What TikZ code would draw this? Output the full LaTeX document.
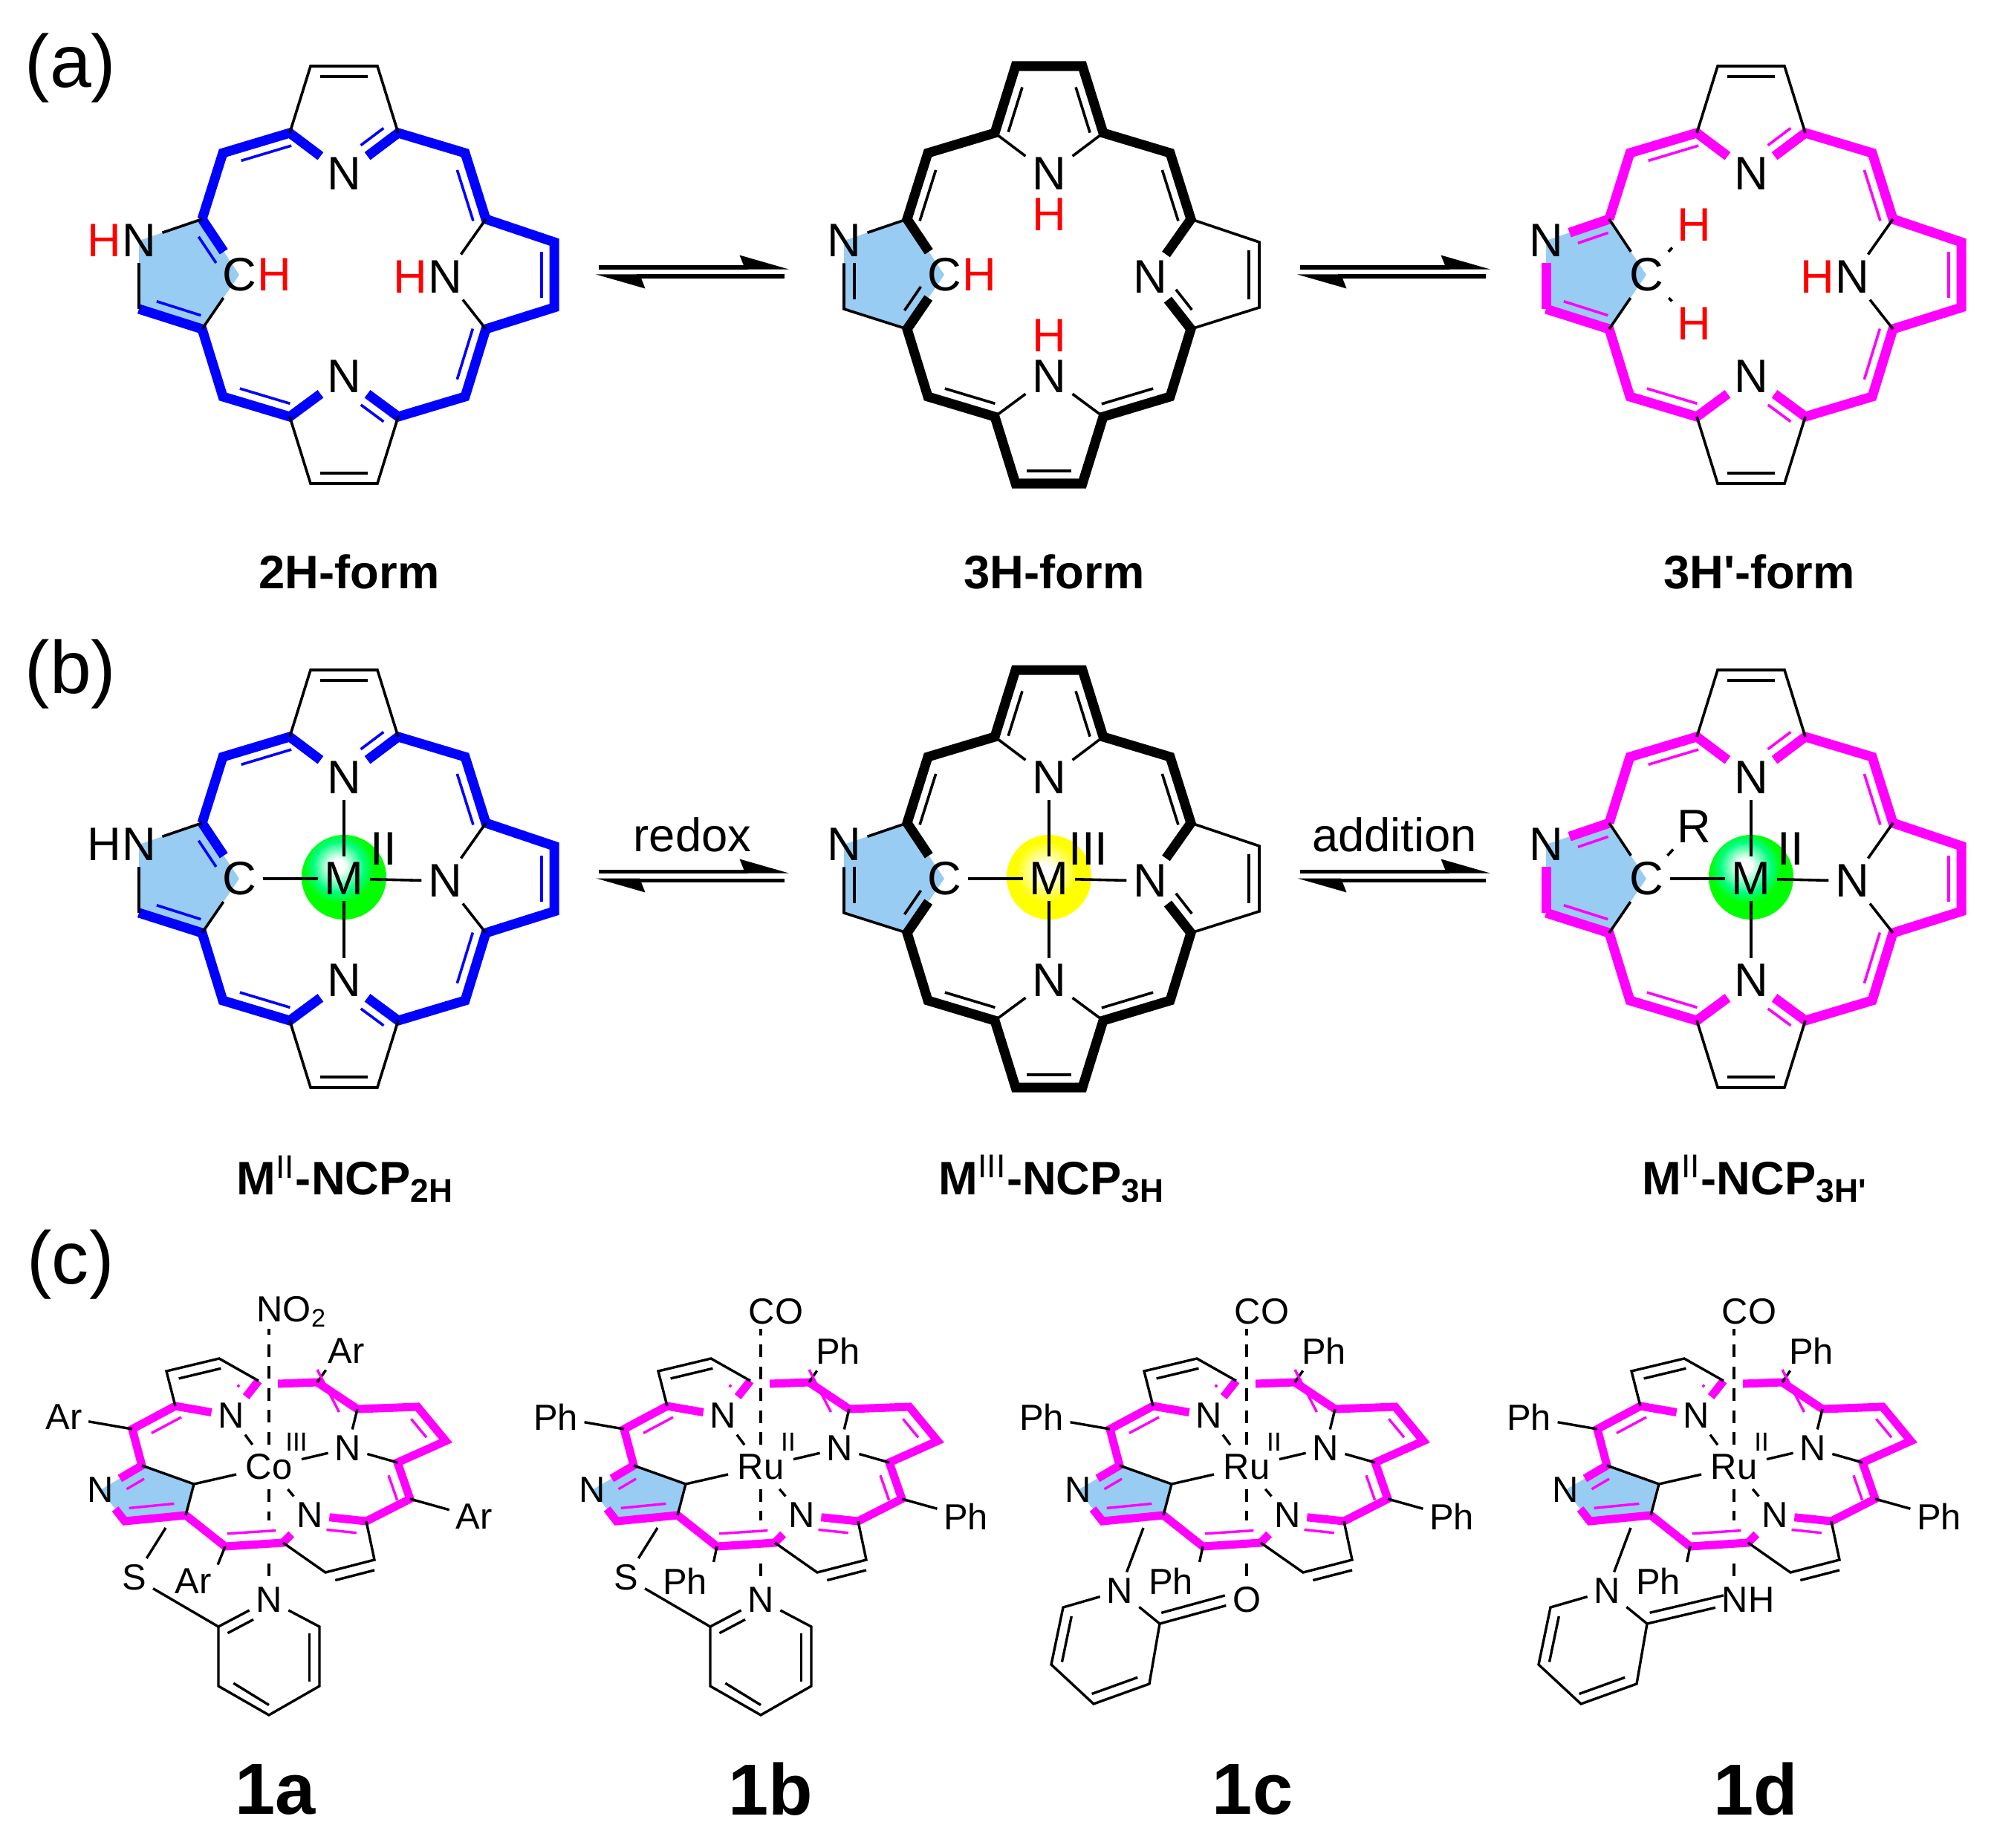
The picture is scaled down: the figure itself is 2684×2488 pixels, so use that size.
\documentclass[tikz,border=0pt]{standalone}
\usepackage{fontspec}
\setmainfont{Liberation Sans}[Ligatures=TeXOff]
\usetikzlibrary{calc,positioning,arrows.meta}
\definecolor{pentblue}{HTML}{99CCF2}
\definecolor{formblue}{HTML}{0000FF}
\definecolor{formpink}{HTML}{FF00FF}
\pgfdeclareradialshading{greenball}{\pgfpoint{-4bp}{7bp}}{rgb(0bp)=(1,1,1);rgb(4bp)=(1,1,1);rgb(15bp)=(0,1,.5);rgb(21bp)=(0,1,0);rgb(100bp)=(0,1,0)}
\pgfdeclareradialshading{yellowball}{\pgfpoint{-2bp}{4bp}}{rgb(0bp)=(1,1,1);rgb(4bp)=(1,1,1);rgb(18bp)=(1,1,0);rgb(100bp)=(1,1,0)}
\tikzset{
    thk/.style={line width=.13cm},
    thn/.style={line width=.036cm,black},
    inn/.style={line width=.036cm},
    atom/.style={font=\fontsize{18}{20}\selectfont,text=black,inner sep=.08cm},
    hatom/.style={atom,inner sep=0pt,text=#1},
    hatom/.default=red,
    fthk/.style={line width=.11cm},
    fthn/.style={line width=.034cm,black},
    finn/.style={line width=.034cm},
    axial/.style={fthn,dash pattern=on .17cm off .125cm},
    satom/.style={font=\fontsize{13.9}{16}\selectfont,text=black,inner sep=.08cm},
    metal/.style={satom,inner sep=.12cm},
    oxlab/.style={font=\fontsize{10}{12}\selectfont,text=black,inner sep=0pt},
    panel/.style={font=\fontsize{28.5}{32}\selectfont,inner sep=0pt},
    formlab/.style={font=\bfseries\fontsize{18}{20}\selectfont,inner sep=0pt},
    numlab/.style={font=\bfseries\fontsize{27.7}{30}\selectfont,inner sep=0pt},
    eqline/.style={line width=.05cm,black,-{Stealth[harpoon,length=.57cm,width=.32cm,inset=.06cm]}},
}
\newcommand{\inbond}[5][.17cm]{\draw ($(#2)!#4!(#3)!#1!90:(#3)$) -- ($(#2)!#5!(#3)!#1!90:(#3)$);}
\newcommand{\ncpbase}{%
    \coordinate (bt1) at (-45,-281); \coordinate (bt2) at (45,-281);
    \coordinate (at1) at (-73,-191); \coordinate (at2) at (73,-191);
    \coordinate (mt1) at (-163,-164); \coordinate (mt2) at (163,-164);
    \coordinate (al1) at (-191,-75); \coordinate (pn) at (-276,-46);
    \coordinate (pb) at (-276,46); \coordinate (al2) at (-191,73);
    \coordinate (pc) at (-141,0);
    \coordinate (ar1) at (191,-75); \coordinate (br1) at (283,-44);
    \coordinate (br2) at (283,44); \coordinate (ar2) at (191,73);
    \coordinate (mb1) at (-163,164); \coordinate (mb2) at (163,164);
    \coordinate (ab1) at (-73,191); \coordinate (ab2) at (73,191);
    \coordinate (bb1) at (-45,281); \coordinate (bb2) at (45,281);
    \fill[pentblue] (pn) -- (al1) -- (pc) -- (al2) -- (pb) -- cycle;
    \node[atom] (nl) at (pn) {N};
    \node[atom] (cc) at (pc) {C};
    \node[atom] (nt) at (0,-136) {N};
    \node[atom] (nb) at (0,137) {N};
    \node[atom] (nr) at (136,3) {N};
}
\newcommand{\ncpmetal}[2]{%
    \shade[shading=#1] (0,-2) circle (57);
    \node[atom] (mm) at (0,0) {M};
    \node[atom] (mo) at (53,-40) {#2};
    \draw[thn] (nt) -- (mm);
    \draw[thn] (nb) -- (mm);
    \draw[thn] (cc) -- (mm);
    \draw[thn] (nr) -- (mm);
}
\newcommand{\ncpcommon}{%
    \draw[thk] (al1) -- (mt1) -- (at1) -- (nt);
    \draw[thk] (nt) -- (at2) -- (mt2) -- (ar1) -- (br1) -- (br2) -- (ar2) -- (mb2) -- (ab2) -- (nb);
    \draw[thk] (nb) -- (ab1) -- (mb1) -- (al2) -- (pb);
    \draw[thn] (at1) -- (bt1) -- (bt2) -- (at2);
    \draw[thn] (ab1) -- (bb1) -- (bb2) -- (ab2);
    \draw[thn] (ar1) -- (nr);
    \draw[thn] (ar2) -- (nr);
    \draw[thn] (al2) -- (cc);
    \begin{scope}[inn]
    \inbond{at1}{mt1}{.03}{.78}
    \inbond{nt}{at2}{.45}{.87}
    \inbond{ar1}{mt2}{.03}{.8}
    \inbond{br2}{br1}{.15}{.85}
    \inbond{mb2}{ar2}{.2}{.95}
    \inbond{ab2}{nb}{.13}{.55}
    \inbond{mb1}{ab1}{.2}{.95}
    \inbond{pb}{al2}{.22}{.92}
    \end{scope}
    \begin{scope}[thn]
    \inbond[.14cm]{bt2}{bt1}{.14}{.86}
    \inbond[.14cm]{bb1}{bb2}{.14}{.86}
    \end{scope}
}
\newcommand{\skeltwo}{%
    \ncpcommon
    \draw[thk] (al1) -- (cc);
    \draw[thn] (al1) -- (nl);
    \draw[thn] (nl) -- (pb);
    \begin{scope}[inn]\inbond{cc}{al1}{.34}{.81}\end{scope}
}
\newcommand{\skelpink}{%
    \ncpcommon
    \draw[thk] (al1) -- (nl);
    \draw[thk] (pb) -- (nl);
    \draw[thn] (al1) -- (cc);
    \begin{scope}[inn]\inbond{al1}{nl}{.08}{.56}\end{scope}
}
\newcommand{\skelthree}{%
    \draw[thk] (cc) -- (al1) -- (mt1) -- (at1) -- (bt1) -- (bt2) -- (at2) -- (mt2) -- (ar1) -- (nr);
    \draw[thk] (nr) -- (ar2) -- (mb2) -- (ab2) -- (bb2) -- (bb1) -- (ab1) -- (mb1) -- (al2) -- (cc);
    \draw[thn] (al1) -- (nl);
    \draw[thn] (nl) -- (pb) -- (al2);
    \draw[thn] (at1) -- (nt);
    \draw[thn] (at2) -- (nt);
    \draw[thn] (ab1) -- (nb);
    \draw[thn] (ab2) -- (nb);
    \draw[thn] (ar1) -- (br1) -- (br2) -- (ar2);
    \begin{scope}[inn]
    \inbond{mt1}{al1}{.2}{.97}
    \inbond{ar1}{mt2}{.03}{.8}
    \inbond{bt1}{at1}{.26}{.93}
    \inbond{at2}{bt2}{.06}{.74}
    \inbond{nr}{ar2}{.39}{.78}
    \inbond[.14cm]{br2}{br1}{.13}{.87}
    \inbond{ab2}{mb2}{.03}{.8}
    \inbond{bb1}{bb2}{.17}{.83}
    \inbond{mb1}{ab1}{.2}{.95}
    \inbond{al2}{cc}{.21}{.65}
    \inbond[.14cm]{pn}{pb}{.33}{.86}
    \end{scope}
}
\newcommand{\ncpflat}[4]{%
    \coordinate (a1) at (-126,-82); \coordinate (a2) at (-14,-116);
    \coordinate (b1) at (-138,-129); \coordinate (b2) at (-67,-146);
    \coordinate (m1) at (-184,-51); \coordinate (a3) at (-171,-2);
    \coordinate (pc) at (-101,23); \coordinate (a4) at (-112,65);
    \coordinate (b3) at (-194,73); \coordinate (m2) at (-59,107);
    \coordinate (a5) at (19,102); \coordinate (b4) at (76,142);
    \coordinate (b5) at (142,125); \coordinate (a6) at (131,73);
    \coordinate (m3) at (190,43); \coordinate (a7) at (173,-6);
    \coordinate (b6) at (238,-35); \coordinate (b7) at (200,-81);
    \coordinate (a8) at (119,-78); \coordinate (m4) at (65,-114);
    \coordinate (g1) at (12,-112); \coordinate (axt) at (0,-186);
    \coordinate (axa) at (0,72); \coordinate (axb) at (0,130);
    \coordinate (sb) at (-139,82);
    \fill[pentblue] (-227,31) -- (a3) -- (pc) -- (a4) -- (b3) -- cycle;
    \node[metal] (mm) at (0,0) {#1};
    \node[oxlab] (mo) at (37,-34) {#2};
    \node[satom] (nw) at (-51,-69) {N};
    \node[satom] (nl) at (-227,31) {N};
    \node[satom] (ns) at (55,65) {N};
    \node[satom] (ne) at (106,-25) {N};
    \node[satom,inner sep=0pt,anchor=west] (lig) at (-17,-209) {#4};
    \node[satom] (r1) at (-276,-67) {#3};
    \node[satom] (r2) at (104,-156) {#3};
    \node[satom] (r3) at (276,67) {#3};
    \node[satom] (r4) at (-102,154) {#3};
    \draw[axial] (mm) -- (axt);
    \draw[axial] (mm) -- (axa);
    \draw[fthk] (nw) -- (a2);
    \draw[fthk] (nw) -- (a1) -- (m1) -- (a3) -- (nl);
    \draw[fthk] (g1) -- (m4) -- (a8) -- (b7) -- (b6) -- (a7) -- (m3) -- (a6) -- (ns);
    \draw[fthk] (ns) -- (a5) -- (m2) -- (a4) -- (b3) -- (nl);
    \draw[fthn] (a1) -- (b1) -- (b2) -- (a2);
    \draw[fthn] (a5) -- (b4) -- (b5) -- (a6);
    \draw[fthn] (nw) -- (mm);
    \draw[fthn] (ne) -- (mm);
    \draw[fthn] (ns) -- (mm);
    \draw[fthn] (ne) -- (a8);
    \draw[fthn] (ne) -- (a7);
    \draw[fthn] (a3) -- (pc) -- (a4);
    \draw[fthn] (pc) -- (mm);
    \draw[fthn] (m1) -- (r1);
    \draw[fthn] (m4) -- (r2.223);
    \draw[fthn] (m3) -- (r3);
    \draw[fthn] (m2) -- (r4.34);
    \begin{scope}[finn]
    \inbond{a1}{m1}{0}{.69}
    \inbond{a8}{m4}{.28}{1}
    \inbond{b6}{b7}{.34}{.88}
    \inbond{m3}{a7}{.08}{.76}
    \inbond{a6}{ns}{.15}{.68}
    \inbond{m2}{a5}{.05}{.89}
    \inbond{b3}{a4}{.09}{.83}
    \inbond{a3}{nl}{.1}{.52}
    \inbond{nw}{a2}{.6}{.66}
    \end{scope}
    \begin{scope}[fthn]
    \inbond[.135cm]{b2}{b1}{.01}{.81}
    \inbond[.135cm]{b5}{b4}{.05}{.85}
    \end{scope}
}
\newcommand{\sligand}{%
    \node[satom] (ss) at (-181,149) {S};
    \node[satom] (p1) at (0,179) {N};
    \coordinate (p2) at (-68,215); \coordinate (p3) at (-68,295);
    \coordinate (p4) at (0,334); \coordinate (p5) at (68,295);
    \coordinate (p6) at (68,215);
    \draw[axial] (axb) -- (p1);
    \draw[fthn] (sb) -- (ss);
    \draw[fthn] (ss) -- (p2);
    \draw[fthn] (p1) -- (p2) -- (p3) -- (p4) -- (p5) -- (p6) -- (p1);
    \begin{scope}[fthn]
    \inbond[.135cm]{p1}{p2}{.4}{.91}
    \inbond[.135cm]{p5}{p6}{.08}{.89}
    \inbond[.135cm]{p3}{p4}{.2}{1}
    \end{scope}
}
\newcommand{\oligand}[2]{%
    \node[satom] (p1) at (-171,167) {N};
    \node[satom,#1] (xx) at (0,179) {#2};
    \coordinate (axc) at (0,152);
    \coordinate (p2) at (-117,211); \coordinate (p3) at (-131,292);
    \coordinate (p4) at (-206,319); \coordinate (p5) at (-263,266);
    \coordinate (p6) at (-247,189);
    \draw[axial] (axb) -- (axc);
    \draw[fthn] (sb) -- (p1);
    \draw[fthn] (p1) -- (p2) -- (p3) -- (p4) -- (p5) -- (p6) -- (p1);
    \draw[fthn] (p2) -- (xx);
    \begin{scope}[fthn]
    \inbond[.135cm]{p2}{xx}{.05}{.78}
    \inbond[.135cm]{p6}{p5}{.12}{.92}
    \inbond[.135cm]{p4}{p3}{.03}{.85}
    \end{scope}
}
\newcommand{\eqpair}[3]{%
    \begin{scope}[shift={(#1,#2)},name prefix=#3-]
    \coordinate (ul) at (4,-10); \coordinate (ur) at (260,-10);
    \coordinate (lr) at (254,2); \coordinate (ll) at (0,2);
    \draw[eqline] (ul) -- (ur);
    \draw[eqline] (lr) -- (ll);
    \end{scope}
}
\begin{document}
\begin{tikzpicture}[x=.01cm,y=-.01cm]
    \useasboundingbox (0,0) rectangle (2684,2488);
    \node[panel] (pa) at (95,92) {(a)};
    \node[panel] (pb) at (95,908) {(b)};
    \node[panel] (pc) at (95,1703) {(c)};
    \begin{scope}[shift={(463,370)},color=formblue,name prefix=a1-]
        \ncpbase
        \node[hatom,left=-.08cm of nl] (hl) {H};
        \node[hatom,right=-.08cm of cc] (hc) {H};
        \node[hatom,left=-.08cm of nr] (hr) {H};
        \skeltwo
    \end{scope}
    \begin{scope}[shift={(1412,370)},color=black,name prefix=a2-]
        \ncpbase
        \node[hatom,right=-.08cm of cc] (hc) {H};
        \node[hatom,below=.02cm of nt] (ht) {H};
        \node[hatom,above=.02cm of nb] (hb) {H};
        \skelthree
    \end{scope}
    \begin{scope}[shift={(2357,370)},color=formpink,name prefix=a3-]
        \ncpbase
        \node[atom,text=red] (hu) at (-77,-67) {H};
        \node[atom,text=red] (hd) at (-77,66) {H};
        \node[hatom,left=-.08cm of nr] (hr) {H};
        \draw[thn] (cc) -- (hu);
        \draw[thn] (cc) -- (hd);
        \skelpink
    \end{scope}
    \eqpair{802}{370}{q1}
    \eqpair{1746}{370}{q2}
    \node[formlab] (la1) at (470,770) {2H-form};
    \node[formlab] (la2) at (1419,770) {3H-form};
    \node[formlab] (la3) at (2368,770) {3H'-form};
    \begin{scope}[shift={(463,1183)},color=formblue,name prefix=b1-]
        \ncpbase
        \node[hatom=black,left=-.08cm of nl] (hl) {H};
        \ncpmetal{greenball}{II}
        \skeltwo
    \end{scope}
    \begin{scope}[shift={(1412,1183)},color=black,name prefix=b2-]
        \ncpbase
        \ncpmetal{yellowball}{III}
        \skelthree
    \end{scope}
    \begin{scope}[shift={(2357,1183)},color=formpink,name prefix=b3-]
        \ncpbase
        \node[atom] (rr) at (-77,-70) {R};
        \draw[thn] (cc) -- (rr);
        \ncpmetal{greenball}{II}
        \skelpink
    \end{scope}
    \eqpair{802}{1183}{q3}
    \eqpair{1746}{1183}{q4}
    \node[atom] (redox) at (932,1124) {redox};
    \node[atom] (addn) at (1877,1124) {addition};
    \node[formlab] (lb1) at (465,1587) {M\textsuperscript{\mdseries II}-NCP\textsubscript{2H}};
    \node[formlab] (lb2) at (1416,1587) {M\textsuperscript{\mdseries III}-NCP\textsubscript{3H}};
    \node[formlab] (lb3) at (2362,1587) {M\textsuperscript{\mdseries II}-NCP\textsubscript{3H'}};
    \begin{scope}[shift={(362,1975)},color=formpink,name prefix=c1-]
        \ncpflat{Co}{III}{Ar}{NO\textsubscript{2}}
        \sligand
    \end{scope}
    \begin{scope}[shift={(1024,1975)},color=formpink,name prefix=c2-]
        \ncpflat{Ru}{II}{Ph}{CO}
        \sligand
    \end{scope}
    \begin{scope}[shift={(1678,1975)},color=formpink,name prefix=c3-]
        \ncpflat{Ru}{II}{Ph}{CO}
        \oligand{}{O}
    \end{scope}
    \begin{scope}[shift={(2334,1975)},color=formpink,name prefix=c4-]
        \ncpflat{Ru}{II}{Ph}{CO}
        \oligand{anchor=west,xshift=-.25cm}{NH}
    \end{scope}
    \node[numlab] (n1a) at (371,2409) {1a};
    \node[numlab] (n1b) at (1037,2409) {1b};
    \node[numlab] (n1c) at (1686,2409) {1c};
    \node[numlab] (n1d) at (2363,2409) {1d};
\end{tikzpicture}
\end{document}
